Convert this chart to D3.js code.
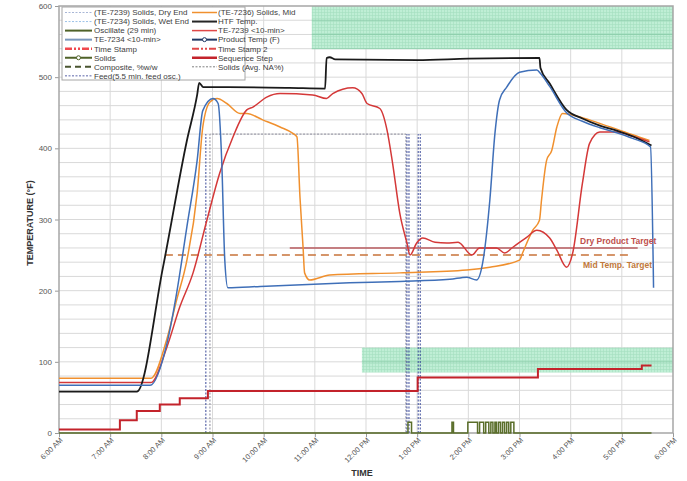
<!DOCTYPE html>
<html>
<head>
<meta charset="utf-8">
<script src="https://unpkg.com/d3@7/dist/d3.min.js"></script>
<style>
  body { margin: 0; background: #fff; }
  svg { font-family: "Liberation Sans", Arial, sans-serif; }
</style>
</head>
<body>
<div id="chart"></div>
<script>
// hours after 6:00 AM, temperature (F)
const hourLabels = ["6:00 AM","7:00 AM","8:00 AM","9:00 AM","10:00 AM","11:00 AM","12:00 PM",
                    "1:00 PM","2:00 PM","3:00 PM","4:00 PM","5:00 PM","6:00 PM"];
const yTicks = [0, 100, 200, 300, 400, 500, 600];

const htfTemp = [[0,58],[1.52,58],[2.03,232],[2.5,411],[2.70,475],[2.74,492],[2.82,486],[3.3,486],
  [4.5,485],[5.2,484],[5.23,527],[5.29,528],[5.4,525],[7,524],[8,526],[9.39,527],[9.41,513],
  [9.59,491],[9.92,454],[10.23,442],[10.57,432],[10.9,425],[11.21,417],[11.58,404]];

const te7234 = [[0,67],[1.78,67],[2.11,126],[2.30,197],[2.50,290],[2.70,383],[2.81,453],[3.01,470],
  [3.11,463],[3.18,383],[3.24,243],[3.30,204],[3.93,206],[5.68,211],[6.66,213],[7.64,216],[7.97,219],
  [8.16,215],[8.28,239],[8.42,327],[8.52,421],[8.61,468],[8.75,486],[9.0,507],[9.34,510],[9.41,505],
  [9.59,487],[9.92,450],[10.23,438],[10.57,429],[10.9,422],[11.21,414],[11.56,402],[11.62,204]];

const te7236 = [[0,77],[1.80,77],[2.1,130],[2.30,187],[2.50,243],[2.70,337],[2.81,430],[2.95,465],
  [3.09,470],[3.28,463],[3.54,449],[3.67,449],[3.98,440],[4.32,430],[4.57,421],[4.65,416],[4.71,331],
  [4.77,261],[4.80,225],[4.90,215],[5.29,222],[6.66,225],[7.97,229],[8.42,233],[9.0,243],[9.06,253],
  [9.26,285],[9.39,299],[9.43,327],[9.53,383],[9.63,397],[9.73,430],[9.84,449],[10.23,443],
  [10.57,435],[10.9,427],[11.21,419],[11.54,411]];

const te7239 = [[0,71],[1.80,71],[2.11,121],[2.36,177],[2.62,225],[2.89,299],[3.14,365],[3.40,416],
  [3.67,454],[3.79,458],[4.06,472],[4.32,477],[4.96,475],[5.23,470],[5.35,477],[5.74,485],[5.92,477],
  [6.02,463],[6.27,456],[6.41,426],[6.52,379],[6.66,309],[6.80,267],[6.86,250],[6.99,267],[7.11,274],
  [7.35,268],[7.58,267],[7.8,268],[8.07,250],[8.22,260],[8.55,260],[8.71,253],[8.87,261],[9.14,275],
  [9.34,285],[9.59,274],[9.73,257],[9.92,233],[10.04,253],[10.23,351],[10.37,407],[10.57,423],
  [10.9,423],[11.21,417],[11.54,409]];

const sequenceStep = [[0,5],[1.19,5],[1.19,18],[1.52,18],[1.52,31],[1.97,31],[1.97,40],[2.36,40],
  [2.36,49],[2.91,49],[2.91,59],[7.01,59],[7.01,78],[9.36,78],[9.36,90],[11.39,90],[11.39,95],[11.58,95]];

// oscillate pulses: [start, end] hours
const pulses = [[6.82,6.89],[7.68,7.71],[7.99,8.18],[8.22,8.30],[8.34,8.40],[8.44,8.48],[8.52,8.55],
  [8.59,8.63],[8.67,8.71],[8.75,8.79],[8.83,8.89]];
const pulseHeight = 15;
const oscEnd = 11.58;

const solidsAvg = [[2.95,0],[2.95,420],[6.78,420],[6.78,0]];
const feedLines = [2.87, 6.80, 6.84, 7.02, 7.06];
const feedTop = 420;

const dryTarget = {from: 4.51, to: 11.31, value: 260};
const midTarget = {from: 2.07, to: 11.15, value: 250};

const bands = [{from: 4.94, to: 12, lo: 540, hi: 600}, {from: 5.92, to: 12, lo: 85, hi: 120}];

const legendLeft = ["(TE-7239) Solids, Dry End","(TE-7234) Solids, Wet End","Oscillate (29 min)",
  "TE-7234 <10-min>","Time Stamp","Solids","Composite, %w/w","Feed(5.5 min. feed osc.)"];
const legendRight = ["(TE-7236) Solids, Mid","HTF Temp.","TE-7239 <10-min>","Product Temp (F)",
  "Time Stamp 2","Sequence Step","Solids (Avg. NA%)"];

const width = 687, height = 481;
const plotLeft = 59, plotRight = 673, plotTop = 6, plotBottom = 433;

const svg = d3.select("#chart").append("svg")
  .attr("width", width).attr("height", height);

const x = d3.scaleLinear().domain([0, 12]).range([plotLeft, plotRight]);
const y = d3.scaleLinear().domain([0, 600]).range([plotBottom, plotTop]);

// band pattern
const defs = svg.append("defs");
const pat = defs.append("pattern").attr("id", "bandpat")
  .attr("width", 3).attr("height", 3).attr("patternUnits", "userSpaceOnUse");
pat.append("rect").attr("width", 3).attr("height", 3).attr("fill", "#bfeed5");
pat.append("path").attr("d", "M0,0.5H3M0.5,0V3").attr("stroke", "#a4dfc0").attr("stroke-width", 0.6);

// grid
svg.append("g").selectAll("line").data(d3.range(20, 600, 20)).enter().append("line")
  .attr("x1", plotLeft).attr("x2", plotRight).attr("y1", d => y(d)).attr("y2", d => y(d))
  .attr("stroke", "#d9d9d9").attr("stroke-width", 1);
svg.append("g").selectAll("line").data(d3.range(1, 12)).enter().append("line")
  .attr("y1", plotTop).attr("y2", plotBottom).attr("x1", d => x(d)).attr("x2", d => x(d))
  .attr("stroke", "#d9d9d9").attr("stroke-width", 1);

// green bands
svg.append("g").selectAll("rect").data(bands).enter().append("rect")
  .attr("x", d => x(d.from)).attr("width", d => x(d.to) - x(d.from))
  .attr("y", d => y(d.hi)).attr("height", d => y(d.lo) - y(d.hi))
  .attr("fill", "url(#bandpat)");
svg.append("g").selectAll("line")
  .data(bands.flatMap(b => d3.range(Math.ceil(b.lo / 20) * 20, b.hi, 20).map(v => ({b, v}))))
  .enter().append("line")
  .attr("x1", d => x(d.b.from)).attr("x2", d => x(d.b.to))
  .attr("y1", d => y(d.v)).attr("y2", d => y(d.v))
  .attr("stroke", "#8fcfad").attr("stroke-width", 1);

// axes
const xAxis = d3.axisBottom(x).tickValues(d3.range(0, 13)).tickSize(4).tickFormat(d => hourLabels[d]);
const gx = svg.append("g").attr("transform", `translate(0,${plotBottom})`).call(xAxis);
gx.select(".domain").remove();
gx.selectAll(".tick line").attr("stroke", "#999");
gx.selectAll(".tick text")
  .attr("fill", "#555").attr("font-size", 7.5)
  .attr("text-anchor", "end")
  .attr("transform", "translate(2,6) rotate(-45)")
  .attr("dy", "0.3em").attr("y", 0).attr("x", 0);

const yAxis = d3.axisLeft(y).tickValues(yTicks).tickSize(4).tickFormat(d3.format("d"));
const gy = svg.append("g").attr("transform", `translate(${plotLeft},0)`).call(yAxis);
gy.select(".domain").remove();
gy.selectAll(".tick line").attr("stroke", "#999");
gy.selectAll(".tick text").attr("fill", "#555").attr("font-size", 8).attr("x", -7);

svg.append("rect").attr("x", plotLeft).attr("y", plotTop)
  .attr("width", plotRight - plotLeft).attr("height", plotBottom - plotTop)
  .attr("fill", "none").attr("stroke", "#a6a6a6").attr("stroke-width", 1.5);

svg.append("text").attr("x", 362).attr("y", 476).attr("text-anchor", "middle")
  .attr("font-size", 9).attr("font-weight", "bold").attr("fill", "#333").text("TIME");
svg.append("text").attr("transform", "translate(33,223) rotate(-90)").attr("text-anchor", "middle")
  .attr("font-size", 9).attr("font-weight", "bold").attr("fill", "#333").text("TEMPERATURE (°F)");

const line = d3.line().x(d => x(d[0])).y(d => y(d[1]));
const smooth = d3.line().x(d => x(d[0])).y(d => y(d[1])).curve(d3.curveMonotoneX);

// solids avg and feed dotted lines
svg.append("path").attr("d", line(solidsAvg)).attr("fill", "none")
  .attr("stroke", "#8c8c9c").attr("stroke-width", 1).attr("stroke-dasharray", "2,1.5");
svg.append("g").selectAll("line").data(feedLines).enter().append("line")
  .attr("x1", d => x(d)).attr("x2", d => x(d)).attr("y1", y(0)).attr("y2", y(feedTop))
  .attr("stroke", "#3a4a9a").attr("stroke-width", 1).attr("stroke-dasharray", "2,1.5");

// targets
svg.append("line").attr("x1", x(dryTarget.from)).attr("x2", x(dryTarget.to))
  .attr("y1", y(dryTarget.value)).attr("y2", y(dryTarget.value))
  .attr("stroke", "#b75a5e").attr("stroke-width", 1.5);
svg.append("line").attr("x1", x(midTarget.from)).attr("x2", x(midTarget.to))
  .attr("y1", y(midTarget.value)).attr("y2", y(midTarget.value))
  .attr("stroke", "#c8733a").attr("stroke-width", 1.5).attr("stroke-dasharray", "8,5");

// oscillate
const osc = [[0, 0]];
pulses.forEach(p => { osc.push([p[0], 0], [p[0], pulseHeight], [p[1], pulseHeight], [p[1], 0]); });
osc.push([oscEnd, 0]);
svg.append("path").attr("d", line(osc)).attr("fill", "none")
  .attr("stroke", "#5a6e2a").attr("stroke-width", 1.5);

// sequence step
svg.append("path").attr("d", line(sequenceStep)).attr("fill", "none")
  .attr("stroke", "#c3232b").attr("stroke-width", 2);

// temperatures
const series = [
  {data: te7236, color: "#f0902e", w: 1.5},
  {data: te7239, color: "#d43838", w: 1.5},
  {data: htfTemp, color: "#1a1a1a", w: 1.8},
  {data: te7234, color: "#3f6fb8", w: 1.5}
];
svg.append("g").selectAll("path").data(series).enter().append("path")
  .attr("d", d => smooth(d.data)).attr("fill", "none")
  .attr("stroke", d => d.color).attr("stroke-width", d => d.w);

// target labels
svg.append("text").attr("x", 580).attr("y", 244).attr("font-size", 8.5).attr("font-weight", "bold")
  .attr("fill", "#c0504d").text("Dry Product Target");
svg.append("text").attr("x", 583).attr("y", 268).attr("font-size", 8.5).attr("font-weight", "bold")
  .attr("fill", "#c0783a").text("Mid Temp. Target");

// legend
const lg = svg.append("g");
lg.append("rect").attr("x", 62).attr("y", 7).attr("width", 183).attr("height", 73)
  .attr("fill", "#fff").attr("stroke", "#a6a6a6").attr("stroke-width", 1);
const leftStyles = [
  {c: "#a9b7d6", w: 1, dash: "2,1.5"},
  {c: "#9cc3e8", w: 1, dash: "2,1.5"},
  {c: "#4f6228", w: 2, dash: null},
  {c: "#7b98bd", w: 2, dash: null},
  {c: "#f0484e", w: 2.5, dash: "7,2,2,2,2,2"},
  {c: "#4f6228", w: 2, dash: null, dot: true},
  {c: "#4a5530", w: 2, dash: "6,4"},
  {c: "#5a64a8", w: 1, dash: "2,1.5"}
];
const rightStyles = [
  {c: "#f0902e", w: 1.5, dash: null},
  {c: "#262626", w: 2, dash: null},
  {c: "#e04848", w: 1.5, dash: null},
  {c: "#1f3864", w: 2, dash: null, dot: true},
  {c: "#e04848", w: 2, dash: "7,2,2,2,2,2"},
  {c: "#c3232b", w: 2.5, dash: null},
  {c: "#808080", w: 1, dash: "2,1.5"}
];
function legendColumn(labels, styles, x0, x1, tx) {
  labels.forEach((lab, i) => {
    const yy = 12.5 + i * 9.05;
    const s = styles[i];
    lg.append("line").attr("x1", x0).attr("x2", x1).attr("y1", yy).attr("y2", yy)
      .attr("stroke", s.c).attr("stroke-width", s.w).attr("stroke-dasharray", s.dash);
    if (s.dot) lg.append("circle").attr("cx", (x0 + x1) / 2).attr("cy", yy).attr("r", 2)
      .attr("fill", "#fff").attr("stroke", s.c).attr("stroke-width", 1);
    lg.append("text").attr("x", tx).attr("y", yy + 2.8).attr("font-size", 8)
      .attr("fill", "#404040").text(lab);
  });
}
legendColumn(legendLeft, leftStyles, 65, 92, 94);
legendColumn(legendRight, rightStyles, 192, 217, 218);
</script>
</body>
</html>
